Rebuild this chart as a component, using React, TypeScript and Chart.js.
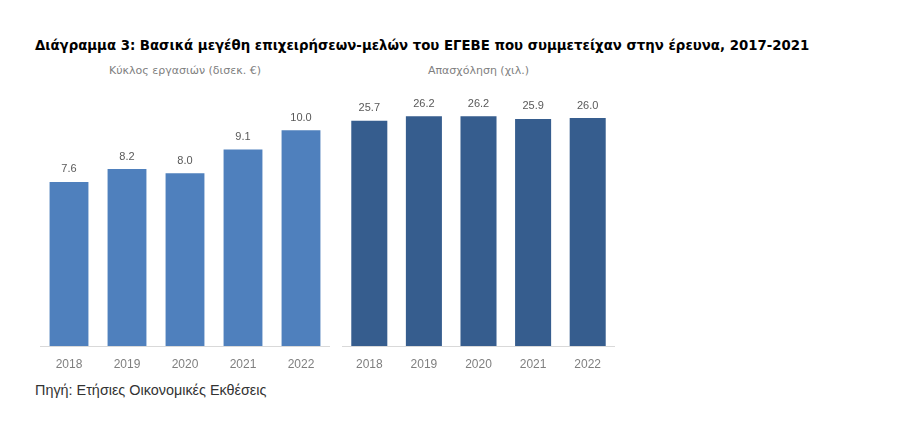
import React, { useEffect, useRef } from "react";
import { Chart, registerables } from "chart.js";

Chart.register(...registerables);

const years = ["2018", "2019", "2020", "2021", "2022"];
const turnover = [7.6, 8.2, 8.0, 9.1, 10.0];
const employment = [25.7, 26.2, 26.2, 25.9, 26.0];

const titleText = "Διάγραμμα 3: Βασικά μεγέθη επιχειρήσεων-μελών του ΕΓΕΒΕ που συμμετείχαν στην έρευνα, 2017-2021";
const leftSubtitle = "Κύκλος εργασιών (δισεκ. €)";
const rightSubtitle = "Απασχόληση (χιλ.)";
const sourceText = "Πηγή: Ετήσιες Οικονομικές Εκθέσεις";

const labelPlugin = {
  id: "valueLabels",
  afterDatasetsDraw(chart: any) {
    const ctx = chart.ctx;
    const meta = chart.getDatasetMeta(0);
    const data = chart.data.datasets[0].data as number[];
    ctx.save();
    ctx.font = "11px 'Liberation Sans'";
    ctx.fillStyle = "#595959";
    ctx.textAlign = "center";
    ctx.textBaseline = "bottom";
    meta.data.forEach((el: any, i: number) => {
      ctx.fillText(data[i].toFixed(1), el.x, el.y - 7);
    });
    ctx.restore();
  },
};

function BarPanel(props: any) {
  const ref = useRef<HTMLCanvasElement>(null);
  useEffect(() => {
    if (!ref.current) return;
    const chart = new Chart(ref.current, {
      type: "bar",
      data: {
        labels: years,
        datasets: [
          {
            data: props.values,
            backgroundColor: props.color,
            categoryPercentage: 1,
            barPercentage: props.barPct,
          },
        ],
      },
      options: {
        animation: false,
        responsive: false,
        maintainAspectRatio: false,
        layout: { padding: 0 },
        plugins: { legend: { display: false }, tooltip: { enabled: false } },
        scales: {
          x: {
            grid: { display: false, drawTicks: false },
            border: { display: true, color: "#d9d9d9", width: 1 },
            ticks: {
              color: "#7f7f7f",
              font: { family: "'Liberation Sans Narrow', 'Liberation Sans'", size: 12 },
              padding: 11,
            },
            afterFit: (s: any) => {
              s.height = 30;
            },
          },
          y: { display: false, min: 0, max: props.max },
        },
      },
      plugins: [labelPlugin],
    });
    return () => chart.destroy();
  }, []);
  return <canvas ref={ref} width={props.w} height={props.h} style={{ position: "absolute", left: 0, top: 0 }} />;
}

export default function App() {
  return (
    <div
      style={{
        position: "fixed",
        left: 0,
        top: 0,
        width: 914,
        height: 424,
        background: "#ffffff",
        overflow: "hidden",
      }}
    >
      <div
        style={{
          position: "absolute",
          left: 35,
          top: 38,
          fontFamily: "'DejaVu Sans', Verdana, sans-serif",
          fontWeight: "bold",
          fontSize: 13.3,
          color: "#000",
          whiteSpace: "nowrap",
        }}
      >
        {titleText}
      </div>
      <div
        style={{
          position: "absolute",
          left: 40,
          width: 290,
          top: 64,
          textAlign: "center",
          fontFamily: "'DejaVu Sans', Verdana, sans-serif",
          fontSize: 11,
          color: "#808080",
        }}
      >
        {leftSubtitle}
      </div>
      <div
        style={{
          position: "absolute",
          left: 342,
          width: 273,
          top: 64,
          textAlign: "center",
          fontFamily: "'DejaVu Sans', Verdana, sans-serif",
          fontSize: 11,
          color: "#808080",
        }}
      >
        {rightSubtitle}
      </div>
      <div style={{ position: "absolute", left: 40, top: 87, width: 290, height: 289 }}>
        <BarPanel values={turnover} color="#4f80bd" max={12} barPct={0.67} w={290} h={289} />
      </div>
      <div style={{ position: "absolute", left: 342, top: 83, width: 273, height: 293 }}>
        <BarPanel values={employment} color="#365d8e" max={30} barPct={0.66} w={273} h={293} />
      </div>
      <div
        style={{
          position: "absolute",
          left: 35,
          top: 382,
          fontFamily: "'Liberation Sans Narrow', 'Liberation Sans', sans-serif",
          fontSize: 14.4,
          color: "#333333",
          whiteSpace: "nowrap",
        }}
      >
        {sourceText}
      </div>
    </div>
  );
}
